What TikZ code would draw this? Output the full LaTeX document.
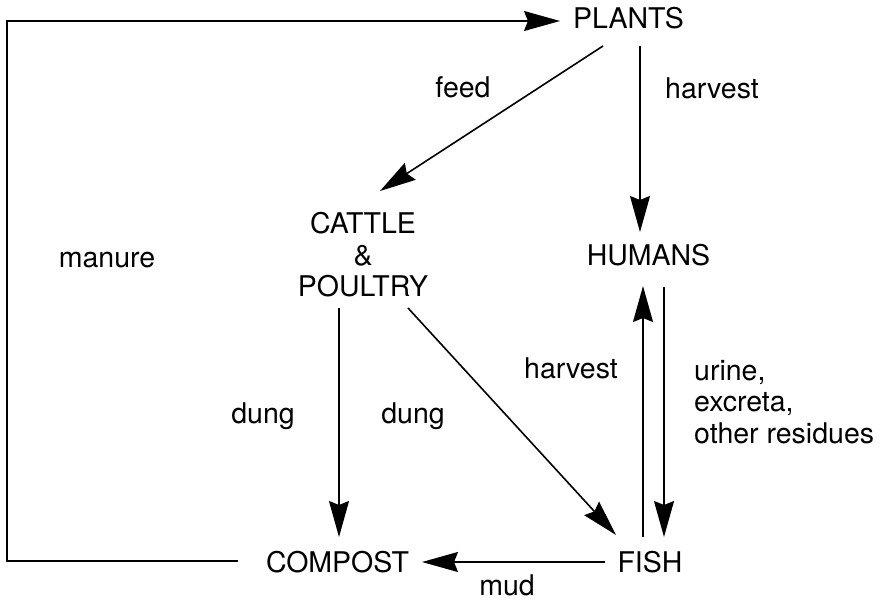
\documentclass[tikz,border=0pt]{standalone}
\usepackage{fontspec}
\setmainfont{TeX Gyre Heros}
\usetikzlibrary{arrows.meta}
\begin{document}
\begin{tikzpicture}[x=1pt,y=-1pt,
  lbl/.style={inner sep=0pt,anchor=base,font=\fontsize{28.5}{31.5}\selectfont},
  conn/.style={line width=1.6pt,-{Stealth[length=36pt,width=20pt,inset=4pt]}},
  plain/.style={line width=1.6pt}]
\useasboundingbox (0,0) rectangle (883,602);
% main nodes
\node[lbl] (plants) at (628.5,29) {PLANTS};
\node[lbl] (humans) at (648.5,265) {HUMANS};
\node[lbl,anchor=center,align=center] (cattle) at (363,255) {CATTLE\\\&\\POULTRY};
\node[lbl] (compost) at (337.5,572) {COMPOST};
\node[lbl] (fish) at (650,572) {FISH};
% connector end points
\coordinate (loopS) at (238,561);
\coordinate (loopA) at (7,561);
\coordinate (loopB) at (7,21);
\coordinate (plantsW) at (560,21);
\coordinate (plantsSW) at (603,46);
\coordinate (cattleNE) at (380,191);
\coordinate (plantsS) at (640,46);
\coordinate (humansN) at (640,232);
\coordinate (cattleS) at (339,308);
\coordinate (compostN) at (339,537);
\coordinate (cattleSE) at (408,308);
\coordinate (fishNW) at (616,535);
\coordinate (fishN1) at (643,537);
\coordinate (humansS1) at (643,286);
\coordinate (humansS2) at (664,287);
\coordinate (fishN2) at (664,537);
\coordinate (fishW) at (605,562);
\coordinate (compostE) at (422,562);
% connectors
\draw[conn] (loopS) -- (loopA) -- (loopB) -- (plantsW);
\draw[conn] (plantsSW) -- (cattleNE);
\draw[conn] (plantsS) -- (humansN);
\draw[conn] (cattleS) -- (compostN);
\draw[conn] (cattleSE) -- (fishNW);
\draw[conn] (fishN1) -- (humansS1);
\draw[conn] (humansS2) -- (fishN2);
\draw[conn] (fishW) -- (compostE);
% labels
\node[lbl] (lfeed) at (463,97) {feed};
\node[lbl] (lharv1) at (712,98) {harvest};
\node[lbl] (lmanure) at (107,267) {manure};
\node[lbl] (ldung1) at (263,423) {dung};
\node[lbl] (ldung2) at (413,423) {dung};
\node[lbl] (lharv2) at (571,378) {harvest};
\node[lbl,anchor=north west,align=left] (lurine) at (694,360) {urine,\\excreta,\\other residues};
\node[lbl] (lmud) at (507,595) {mud};
\end{tikzpicture}
\end{document}
